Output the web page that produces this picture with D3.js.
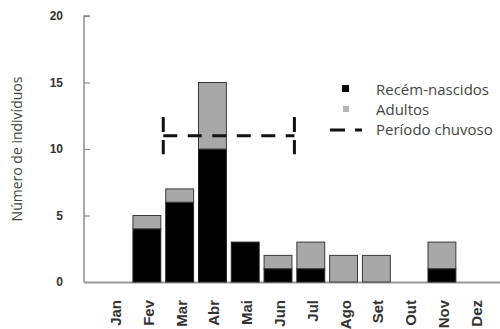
<!DOCTYPE html>
<html><head><meta charset="utf-8">
<script src="https://cdn.jsdelivr.net/npm/d3@7"></script>
<style>body{margin:0;background:#fff}svg{display:block}</style>
</head><body>
<svg id="c" width="500" height="329"></svg>
<script>
const months = ["Jan","Fev","Mar","Abr","Mai","Jun","Jul","Ago","Set","Out","Nov","Dez"];
const recemNascidos = [0,4,6,10,3,1,1,0,0,0,1,0];
const adultos = [0,1,1,5,0,1,2,2,2,0,2,0];
const yTicks = [0,5,10,15,20];
const rainyStart = "Mar", rainyEnd = "Jun", rainyValue = 11, rainyCap = 1.4;
const legendLabels = ["Recém-nascidos","Adultos","Período chuvoso"];

const svg = d3.select("#c");
const x = d3.scaleBand().domain(months).range([97.7, 491.1]).paddingInner(0.15).paddingOuter(0.075);
const y = d3.scaleLinear().domain([0,20]).range([282,16]);
const axisCol = "#8c8c8c";

// y axis
const ya = svg.append("g").attr("transform","translate(84,0)")
  .call(d3.axisRight(y).tickValues(yTicks).tickSize(6).tickFormat(""));
ya.select(".domain").attr("stroke",axisCol).attr("stroke-width",1.5).attr("d",`M6,${y(20)}H0V${y(0)}`);
ya.selectAll(".tick line").attr("stroke",axisCol).attr("stroke-width",1.2);
svg.append("g").selectAll("text").data(yTicks).join("text")
  .attr("x",63).attr("y",d=>y(d)).attr("dy","0.35em").attr("text-anchor","end")
  .attr("font-family","Liberation Sans, Arial, sans-serif").attr("font-weight","bold")
  .attr("font-size",12).attr("fill","#333").text(d=>d);

// x axis line
svg.append("line").attr("x1",84).attr("x2",500).attr("y1",y(0)+0.5).attr("y2",y(0)+0.5)
  .attr("stroke","#9a9a9a").attr("stroke-width",2);

// bars
const data = months.map((m,i)=>({m, a:recemNascidos[i], b:adultos[i]}));
const g = svg.append("g");
data.forEach(d=>{
  if (d.a>0) g.append("rect").attr("x",x(d.m)).attr("width",x.bandwidth())
    .attr("y",y(d.a)).attr("height",y(0)-y(d.a)).attr("fill","#000").attr("stroke","#222").attr("stroke-width",1);
  if (d.b>0) g.append("rect").attr("x",x(d.m)).attr("width",x.bandwidth())
    .attr("y",y(d.a+d.b)).attr("height",y(d.a)-y(d.a+d.b)).attr("fill","#a8a8a8").attr("stroke","#3a3a3a").attr("stroke-width",1);
});

// x labels (rotated, reading bottom-to-top, top aligned near y=300)
months.forEach(m=>{
  const cx = x(m)+x.bandwidth()/2+7, cy = 300;
  svg.append("text").attr("x",cx).attr("y",cy)
    .attr("transform",`rotate(-90 ${cx} ${cy})`)
    .attr("text-anchor","end")
    .attr("font-family","Liberation Sans, Arial, sans-serif").attr("font-weight","bold")
    .attr("font-size",15).attr("fill","#333").text(m);
});

// y title
svg.append("text").attr("transform","translate(22,149) rotate(-90)")
  .attr("text-anchor","middle").attr("font-family","Open Sans, sans-serif")
  .attr("font-size",14).attr("fill","#444").text("Número de indivíduos");

// rainy period
const gap = x.step()*x.paddingInner()/2;
const x0 = x(rainyStart)-gap, x1 = x(rainyEnd)+x.bandwidth()+gap;
svg.append("line").attr("x1",x0).attr("x2",x1).attr("y1",y(rainyValue)).attr("y2",y(rainyValue))
  .attr("stroke","#111").attr("stroke-width",3).attr("stroke-dasharray","14,10.5");
[x0,x1].forEach(xx=>svg.append("line").attr("x1",xx).attr("x2",xx)
  .attr("y1",y(rainyValue+rainyCap)).attr("y2",y(rainyValue-rainyCap))
  .attr("stroke","#111").attr("stroke-width",3).attr("stroke-dasharray","15,8"));

// legend
const lg = svg.append("g").attr("font-family","Open Sans, sans-serif").attr("font-size",15).attr("fill","#444");
lg.append("rect").attr("x",342).attr("y",85).attr("width",7).attr("height",7).attr("fill","#000");
lg.append("rect").attr("x",343).attr("y",106).attr("width",6).attr("height",6).attr("fill","#b5b5b5");
lg.append("line").attr("x1",330).attr("x2",362).attr("y1",130).attr("y2",130)
  .attr("stroke","#111").attr("stroke-width",3).attr("stroke-dasharray","15,10,7,20");
legendLabels.forEach((t,i)=>lg.append("text").attr("x",376).attr("y",95+i*20).text(t));
</script>
</body></html>
